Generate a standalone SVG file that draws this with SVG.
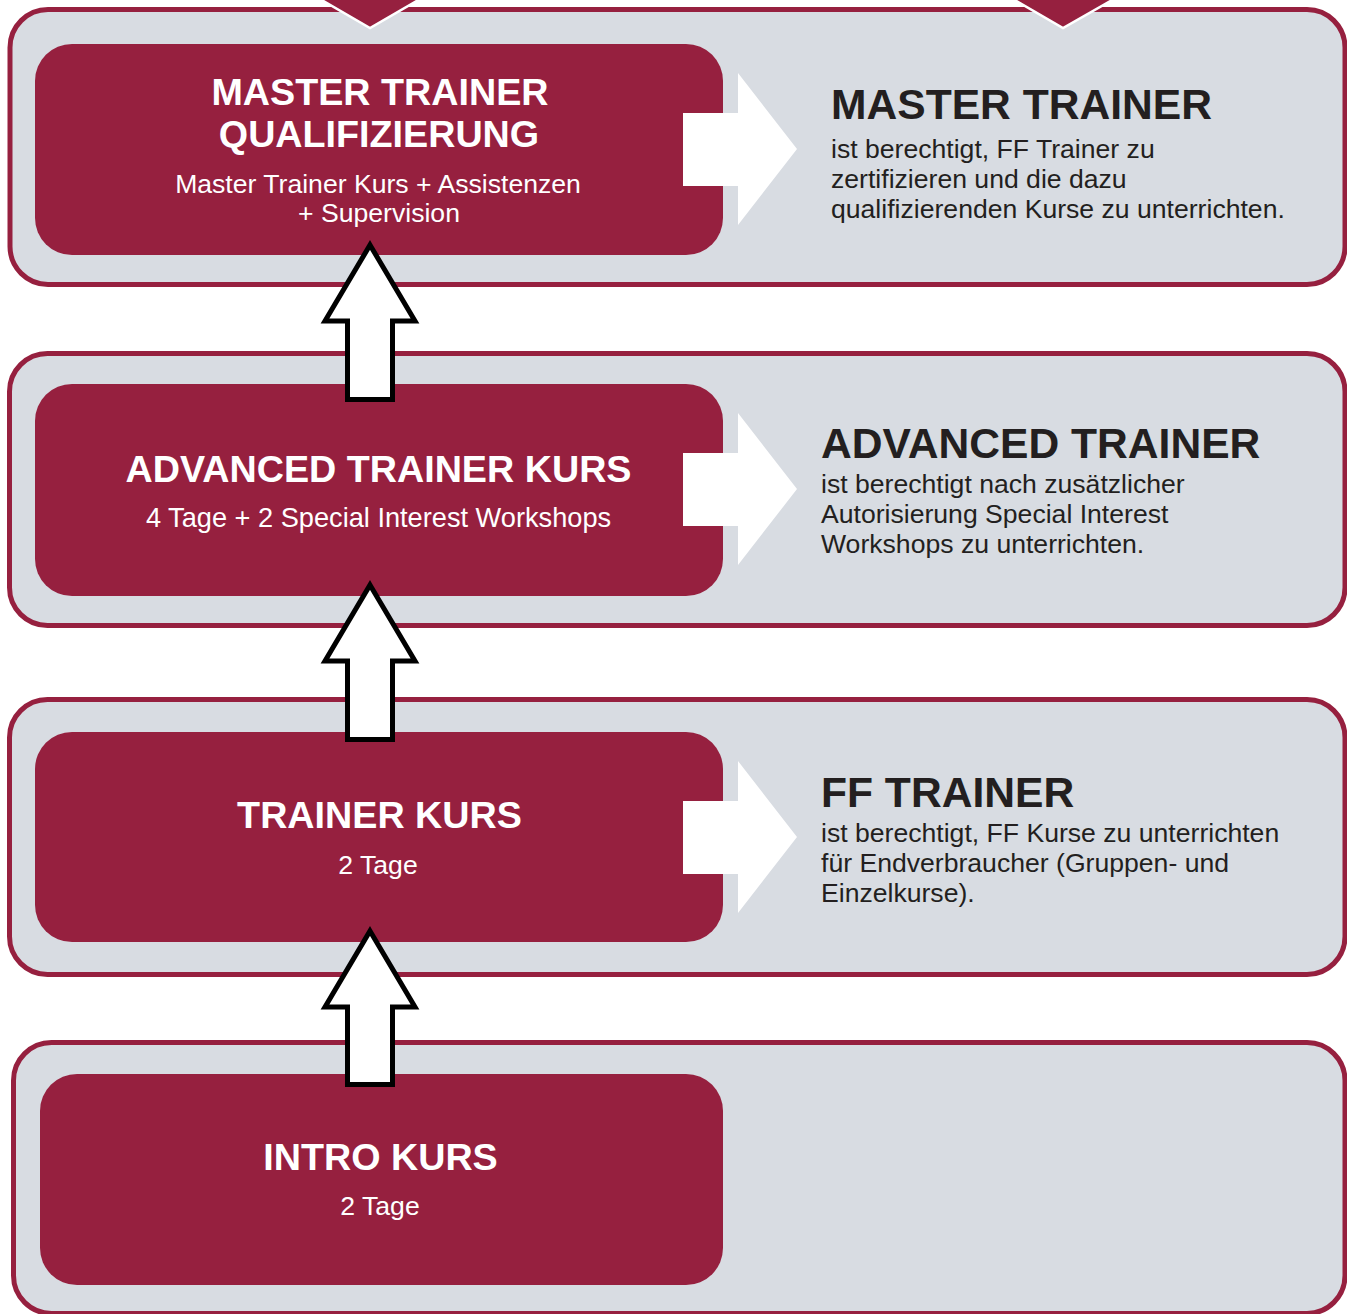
<svg xmlns="http://www.w3.org/2000/svg" width="1347" height="1314" viewBox="0 0 1347 1314">
<style>
.panel{fill:#d8dce2;stroke:#96203f;stroke-width:5}
.box{fill:#96203f}
.rarrow{fill:#ffffff}
.uarrow{fill:#ffffff;stroke:#000000;stroke-width:5;stroke-linejoin:miter}
.tri{fill:#96203f;stroke:#ffffff;stroke-width:2.5}
.bt{font-family:"Liberation Sans",Arial,sans-serif;font-weight:bold;fill:#ffffff;text-anchor:middle;font-size:37.7px}
.st{font-family:"Liberation Sans",Arial,sans-serif;fill:#ffffff;text-anchor:middle;font-size:26.6px}
.rh{font-family:"Liberation Sans",Arial,sans-serif;font-weight:bold;fill:#231f20;font-size:42.6px}
.rb{font-family:"Liberation Sans",Arial,sans-serif;fill:#231f20;font-size:26.6px}
</style>
<rect x="0" y="0" width="1347" height="1314" fill="#ffffff"/>
<g id="panel-master">
<rect class="panel" x="10" y="9.5" width="1335" height="275" rx="38"/>
</g>
<g id="panel-advanced">
<rect class="panel" x="9.5" y="353.5" width="1335.5" height="272" rx="38"/>
</g>
<g id="panel-ff">
<rect class="panel" x="9.5" y="699.5" width="1335.5" height="275" rx="38"/>
</g>
<g id="panel-intro">
<rect class="panel" x="13.5" y="1042.5" width="1331.5" height="271" rx="38"/>
</g>
<g id="top-markers">
<polygon class="tri" points="313,-5 370,28 427,-5"/>
<polygon class="tri" points="1006,-5 1063,28 1121,-5"/>
</g>
<g id="node-master-kurs">
<rect class="box" x="35" y="44" width="688" height="211" rx="37"/>
<text class="bt" x="380" y="105">MASTER TRAINER</text>
<text class="bt" x="379" y="147">QUALIFIZIERUNG</text>
<text class="st" x="378" y="193">Master Trainer Kurs + Assistenzen</text>
<text class="st" x="379" y="222">+ Supervision</text>
</g>
<g id="node-advanced-kurs">
<rect class="box" x="35" y="384" width="688" height="212" rx="37"/>
<text class="bt" x="378.5" y="482">ADVANCED TRAINER KURS</text>
<text class="st" x="378.5" y="527" style="font-size:27.2px">4 Tage + 2 Special Interest Workshops</text>
</g>
<g id="node-trainer-kurs">
<rect class="box" x="35" y="732" width="688" height="210" rx="37"/>
<text class="bt" x="379.5" y="828">TRAINER KURS</text>
<text class="st" x="378" y="874">2 Tage</text>
</g>
<g id="node-intro-kurs">
<rect class="box" x="40" y="1074" width="683" height="211" rx="37"/>
<text class="bt" x="380.5" y="1170">INTRO KURS</text>
<text class="st" x="380" y="1215">2 Tage</text>
</g>
<g id="node-master-trainer">
<text class="rh" x="831" y="119">MASTER TRAINER</text>
<text class="rb" x="831" y="158">ist berechtigt, FF Trainer zu</text>
<text class="rb" x="831" y="188">zertifizieren und die dazu</text>
<text class="rb" x="831" y="218">qualifizierenden Kurse zu unterrichten.</text>
</g>
<g id="node-advanced-trainer">
<text class="rh" x="821" y="458">ADVANCED TRAINER</text>
<text class="rb" x="821" y="493">ist berechtigt nach zusätzlicher</text>
<text class="rb" x="821" y="523">Autorisierung Special Interest</text>
<text class="rb" x="821" y="553">Workshops zu unterrichten.</text>
</g>
<g id="node-ff-trainer">
<text class="rh" x="821" y="807">FF TRAINER</text>
<text class="rb" x="821" y="842">ist berechtigt, FF Kurse zu unterrichten</text>
<text class="rb" x="821" y="872">für Endverbraucher (Gruppen- und</text>
<text class="rb" x="821" y="902">Einzelkurse).</text>
</g>
<g id="connectors">
<polygon class="rarrow" points="683,113 738,113 738,73 797,149 738,225 738,186 683,186"/>
<polygon class="rarrow" points="683,453 738,453 738,413 797,489 738,565 738,526 683,526"/>
<polygon class="rarrow" points="683,801 738,801 738,761 797,837 738,913 738,874 683,874"/>
<polygon class="uarrow" points="370,245 415,321 392.5,321 392.5,399.5 347.5,399.5 347.5,321 325,321"/>
<polygon class="uarrow" points="370,585 415,661 392.5,661 392.5,739.5 347.5,739.5 347.5,661 325,661"/>
<polygon class="uarrow" points="370,931 415,1007 392.5,1007 392.5,1084.5 347.5,1084.5 347.5,1007 325,1007"/>
</g>
</svg>
